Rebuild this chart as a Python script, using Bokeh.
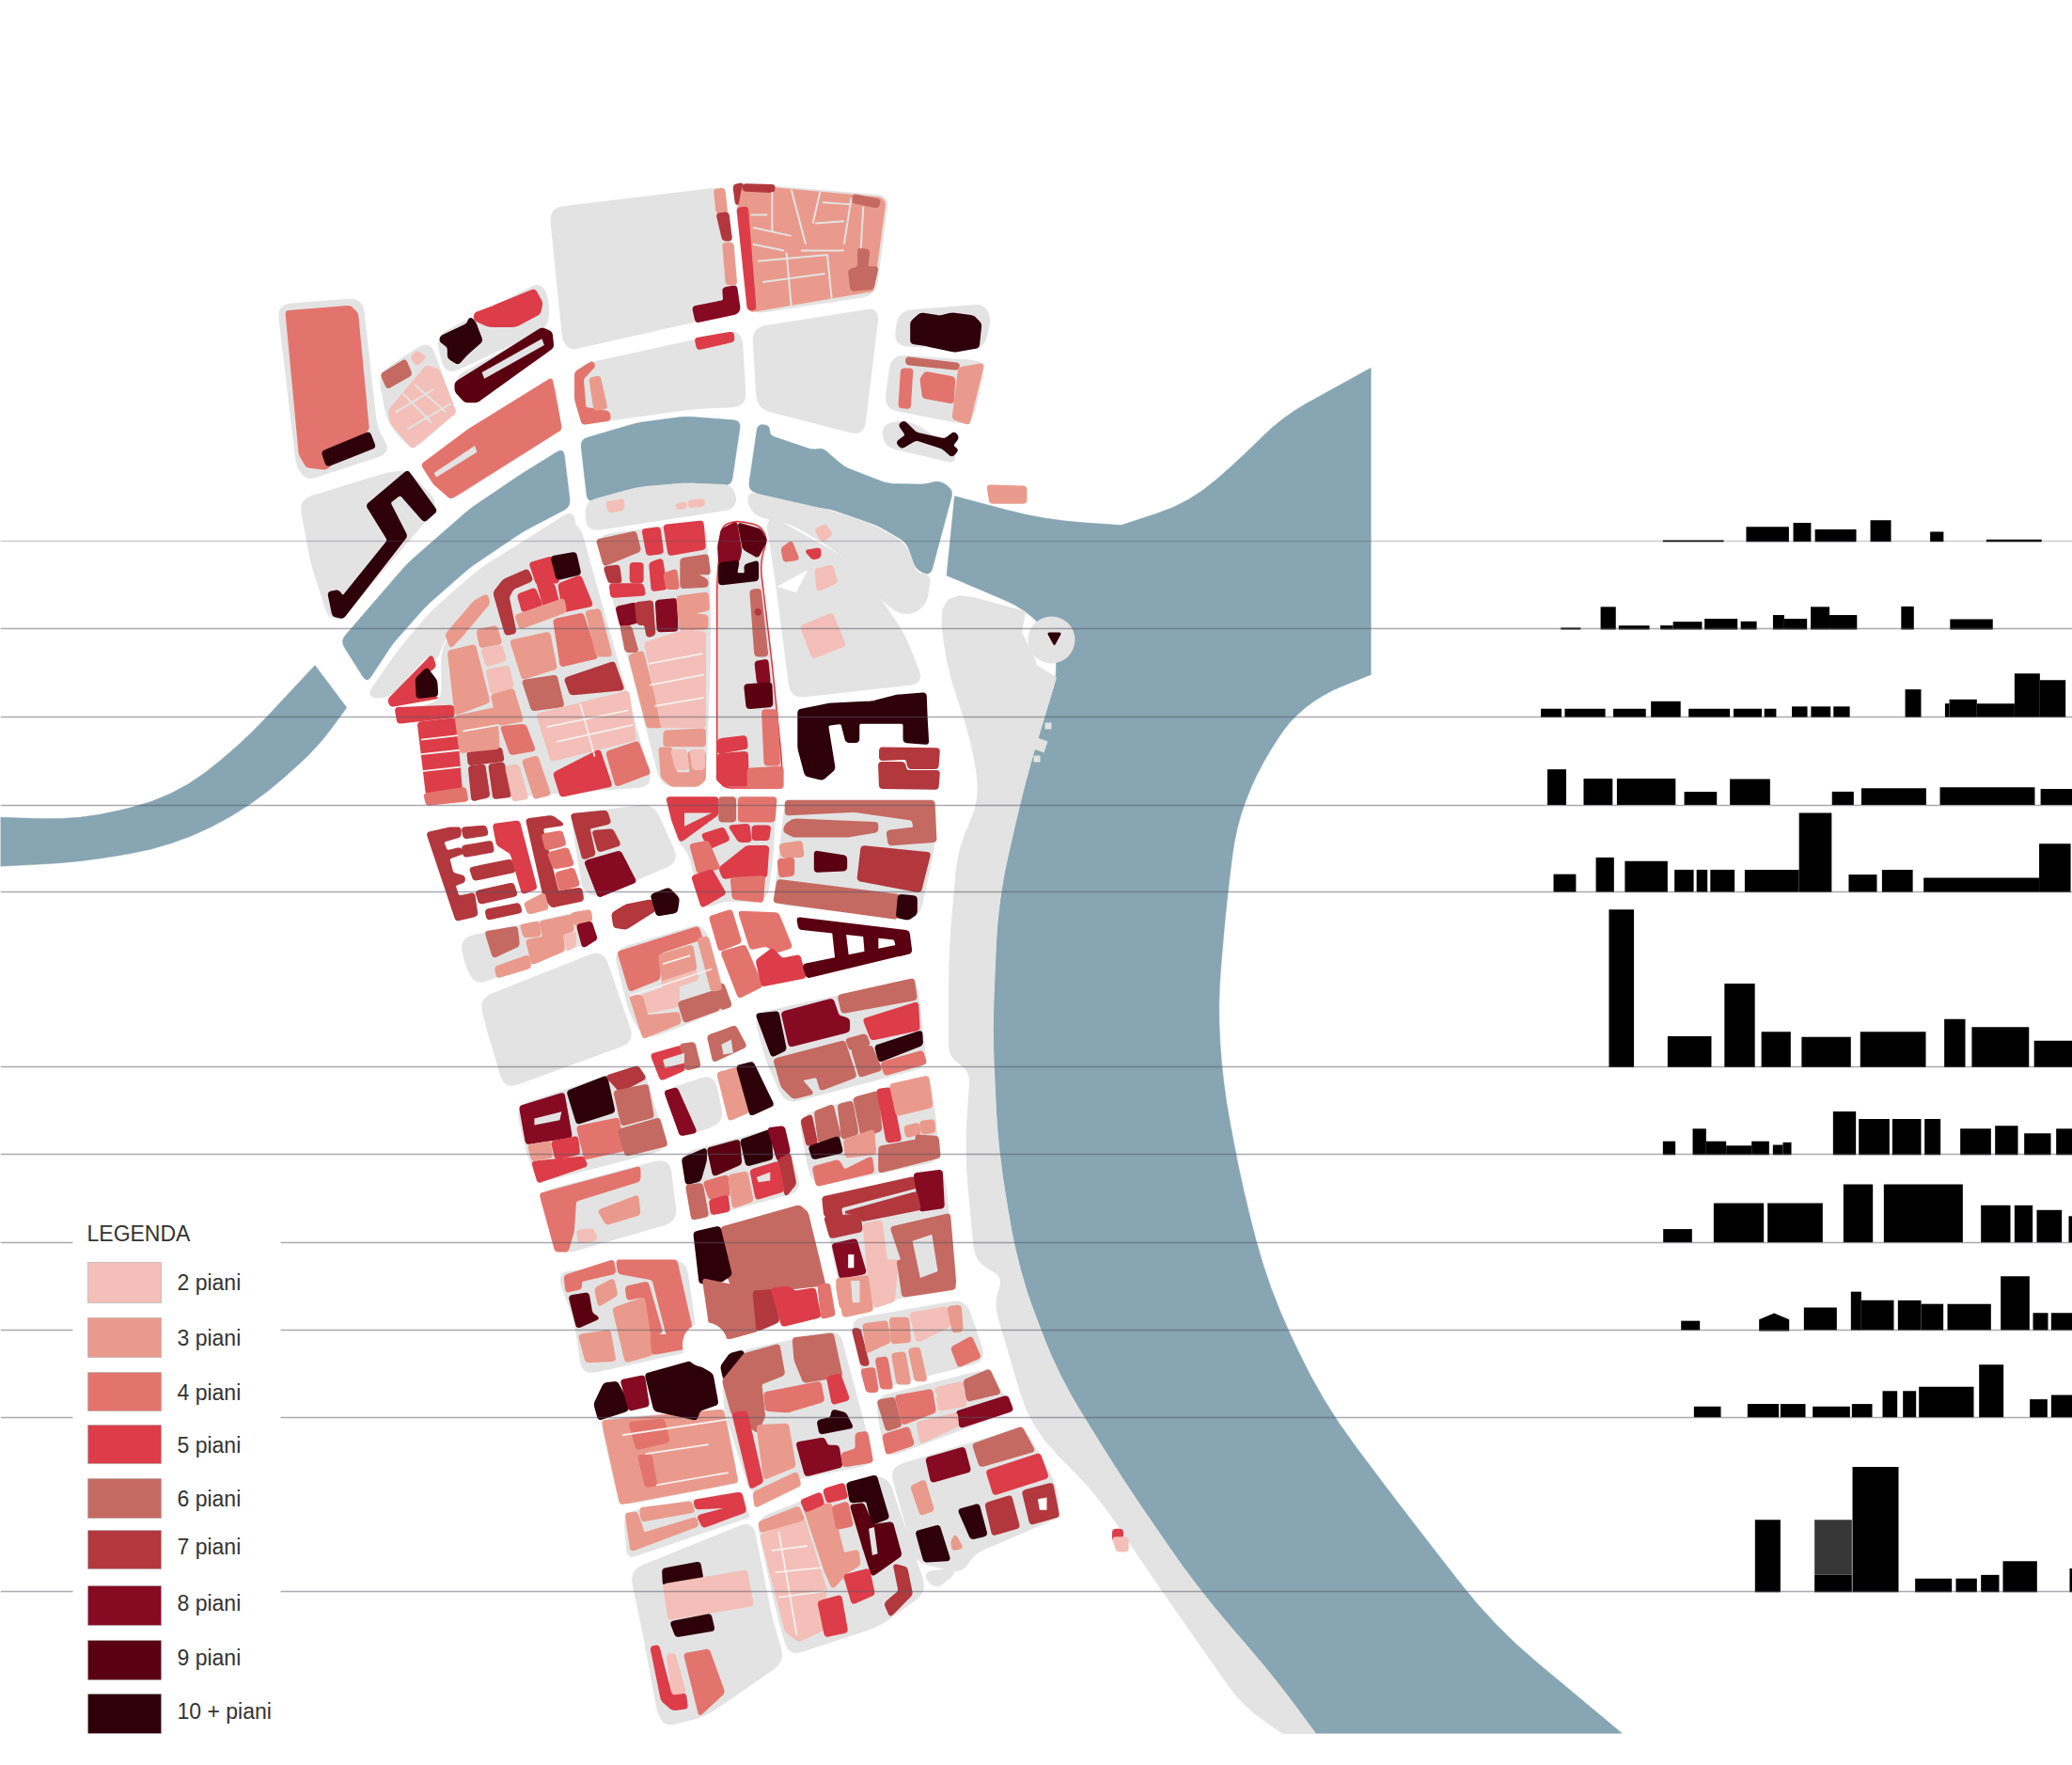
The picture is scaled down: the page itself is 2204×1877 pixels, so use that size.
from math import hypot
from bokeh.plotting import figure
from bokeh.models import Range1d, ColumnDataSource
from bokeh.core.properties import value
from bokeh.embed import file_html
from bokeh.resources import INLINE

# ---------- palette / legend ----------
LEVEL_COLORS = {2: "#F3BFB8", 3: "#EA9A8C", 4: "#E3746D", 5: "#DC3D49", 6: "#C56A62",
                7: "#B2383E", 8: "#860A22", 9: "#5A0010", 10: "#2E000A"}
LEGEND_LABELS = ["2 piani", "3 piani", "4 piani", "5 piani", "6 piani", "7 piani", "8 piani", "9 piani", "10 + piani"]
LEGEND_TOPS = [1342, 1401, 1459, 1515, 1572, 1627, 1686, 1744, 1801]
LEGEND_BOTTOMS = [1385, 1443, 1500, 1556, 1614, 1668, 1728, 1786, 1843]
LEGEND_TEXT_Y = [1363, 1422, 1480, 1536, 1593, 1644, 1704, 1762, 1819]
WATER_COLOR = "#87A5B2"
GREY = "#E3E3E3"
REF_LINES = [575, 668, 762, 856, 948, 1134, 1227, 1321, 1414, 1507, 1692]

# map frames in which the outlines were measured: origin x, origin y, scale x, scale y
FRAMES = {"px": (0, 0, 1, 1), "ov": (0, 0, 0.7114, 0.7114), "z1": (280, 170, 1.96, 2.24),
          "z2": (400, 830, 2.412, 2.8), "z3": (560, 1340, 2.613, 3.015),
          "s4": (1600, 530, 2.596, 2.529), "s5": (1700, 1130, 3.0, 2.613)}

# ---------- water ----------
RIVER = [("ov", [1037,278,1037,510,1000,525,975,545,950,585,935,625,928,680,921,760,925,820,940,900,960,975,1000,1060,1060,1140,1130,1230,1227,1311,995,1311,965,1270,905,1200,850,1120,800,1040,770,960,755,870,750,780,755,680,775,590,800,510,797,483,775,460,716,435,722,375,790,393,848,397,900,380,940,345,970,315]),
         ("ov", [0,618,60,620,130,603,180,565,238,503,262,535,240,565,190,610,130,640,60,652,0,655])]
RIVER_SHARP = {(1037,278),(1037,510),(1227,1311),(995,1311),(0,618),(0,655),(716,435),(722,375),(848,397),(238,503),(262,535)}
CANAL = [
 ("z1", [160,1145,300,960,430,830,540,745,625,685,640,825,540,885,430,970,340,1060,270,1150,215,1245]),
 ("z1", [660,665,780,625,880,610,995,620,975,775,880,768,780,780,675,815]),
 ("z1", [1030,628,1055,632,1055,655,1145,690,1165,685,1210,730,1300,770,1380,772,1408,762,1438,785,1390,990,1360,975,1340,910,1280,870,1180,830,1100,825,1010,785]),
]
ISLETS = [("px",[1111,768,1118,768,1118,775,1111,775]),("px",[1103,784,1114,788,1110,800,1099,796]),("px",[1099,803,1106,803,1106,810,1099,810])]

# ---------- grey ground ----------
BANK = [("px", [998,625,1090,650,1086,672,1100,700,1102,707,1123,720,1090,830,1061,956,1055,1096,1061,1223,1082,1349,1125,1462,1195,1575,1272,1687,1356,1785,1399,1843,1364,1843,1321,1813,1223,1673,1167,1589,1096,1518,1057,1385,1068,1357,1037,1342,1026,1223,1032,1138,1009,1124,1009,1012,1019,900,1043,850,1033,787,1005,703])]
BANK_SHARP = {(1399,1843),(1364,1843),(1090,650),(1086,672),(1102,707),(1123,720)}
GROUND = [
 ("z1", [597,115,960,65,990,360,640,450,625,430]),
 ("z1", [980,55,1290,85,1300,100,1275,320,1015,365]),
 ("z1", [655,490,995,405,1005,585,900,590,660,628]),
 ("z1", [1020,400,1270,355,1280,370,1250,655,1030,590]),
 ("z1", [1325,360,1500,345,1515,375,1500,450,1315,440]),
 ("z1", [1310,465,1505,480,1475,630,1295,590]),
 ("z1", [1290,630,1345,620,1440,690,1440,720,1295,680]),
 ("z1", [30,345,205,330,235,640,265,695,90,760,70,730]),
 ("z1", [75,810,260,745,300,740,365,820,160,1095,135,1085,100,960]),
 ("z1", [240,510,345,430,400,600,310,690,260,625]),
 ("z1", [360,420,580,290,595,345,590,400,380,510]),
 ("z1", [395,520,595,395,605,450,420,580]),
 ("z1", [330,725,605,520,620,640,390,810]),
 ("z1", [215,1278,280,1170,350,1075,450,975,645,835,650,880,470,1020,380,1130,360,1190,340,1180,260,1280]),
 ("z1", [372,1160,460,1030,640,860,660,880,810,1490,340,1530,325,1300,372,1290]),
 ("z1", [695,895,920,860,930,1040,930,1190,920,1490,830,1490]),
 ("z1", [670,815,780,780,880,770,975,775,985,810,975,830,690,880,675,870]),
 ("z1", [1005,790,1180,835,1270,870,1340,915,1360,985,1390,990,1380,1060,1340,1085,1300,1060,1250,990,1190,925,1100,865,1020,845]),
 ("z1", [1070,1015,1100,1280,1375,1245,1335,1130,1270,1020,1200,940,1120,890,1060,850,1050,870,1055,900]),
 ("z2", [745,50,1025,50,1015,230,1000,360,890,355,840,380,800,210,775,180]),
 ("z2", [1050,60,1430,60,1430,200,1390,410,1020,365]),
 ("z2", [500,100,710,70,775,240,560,345,530,320]),
 ("z2", [215,470,545,385,565,470,255,605,230,550]),
 ("z2", [610,505,825,430,845,450,890,620,910,670,690,770,650,690]),
 ("z2", [265,650,580,505,660,775,330,915,290,760]),
 ("z2", [970,695,1385,590,1410,850,1050,960,1000,830]),
 ("z2", [735,925,865,875,890,1015,785,1060]),
 ("z2", [360,970,680,845,745,1095,415,1195,385,1100]),
 ("z2", [420,1225,750,1125,770,1310,470,1410]),
 ("z2", [785,1110,1040,1030,1090,1220,815,1305]),
 ("z2", [1085,1000,1420,880,1445,1130,1130,1205,1110,1160]),
 ("z2", [1145,1250,1455,1165,1490,1510,1200,1568]),
 ("z3", [85,40,440,0,470,240,450,290,155,365,135,200]),
 ("z3", [905,190,1200,130,1225,150,1275,320,940,420,915,250]),
 ("z3", [970,440,1280,350,1350,480,1000,630,985,550]),
 ("z3", [1010,665,1380,535,1470,720,1480,820,1240,940,1210,1000,1080,965,1050,830]),
 ("z3", [640,830,890,715,1000,690,1110,1060,980,1170,730,1265,710,1190,680,1050]),
 ("z3", [288,995,610,845,630,860,680,1150,715,1285,620,1360,495,1460,385,1490,365,1450,325,1200]),
 ("z3", [270,810,600,740,610,805,620,820,290,950,280,940]),
 ("z3", [205,510,550,480,585,710,260,785]),
 ("z3", [545,340,600,290,845,230,870,240,965,650,770,695,655,735,622,740,550,480]),
 ("z3", [1100,1000,1185,990,1185,1005,1135,1055]),
]
OUTLINED_BLOCK = ("z1", [955,870,985,858,1035,870,1050,900,1035,960,1060,1200,1080,1430,1082,1495,960,1495,945,1470,945,1000])

# ---------- buildings: (floors, outline) ----------
BUILDINGS_Z1 = [
 (4,[47,360,180,348,195,365,218,640,130,735,90,730,75,700]),
 (10,[122,695,220,648,232,683,132,728]),
 (5,[440,365,475,350,565,308,580,340,575,365,525,395,470,395,440,380]),
 (10,[370,420,425,390,430,375,440,385,455,430,425,460,405,485,385,470,385,445,368,430]),
 (9,[400,530,580,400,600,410,603,445,445,575,420,575,400,550]),
 (6,[245,510,295,475,308,510,258,543]),
 (2,[320,455,337,470,320,487,307,470]),
 (2,[262,595,340,490,365,500,400,600,310,685,265,625]),
 (4,[330,725,430,640,600,520,620,640,390,805,355,770]),
 (4,[650,505,685,480,690,490,665,520,670,590,720,600,722,618,665,628,650,570]),
 (3,[680,520,700,515,715,590,690,595]),
 (5,[900,425,978,410,980,430,905,450]),
 (8,[895,350,960,335,958,305,985,300,992,355,985,365,902,385]),
 (3,[940,70,960,68,965,125,945,125]),
 (7,[945,128,968,125,975,190,958,190]),
 (3,[958,198,978,198,985,295,965,295]),
 (7,[980,60,998,55,1000,100,985,105]),
 (3,[1000,60,1285,90,1295,100,1270,310,1015,360,990,118]),
 (5,[988,115,1008,112,1025,355,1010,355]),
 (7,[1000,58,1065,60,1063,75,1000,72]),
 (6,[1230,82,1285,95,1280,112,1228,100]),
 (6,[1240,210,1262,215,1258,255,1280,255,1270,305,1225,310,1220,262,1240,255]),
 (10,[1350,385,1370,365,1410,372,1435,365,1480,372,1495,390,1490,445,1440,455,1380,440,1350,435]),
 (6,[1340,470,1450,485,1447,498,1340,485]),
 (4,[1330,498,1352,497,1347,590,1325,588]),
 (4,[1370,520,1380,505,1440,518,1437,578,1375,565]),
 (3,[1450,495,1500,485,1470,628,1437,615]),
 (10,[1325,630,1335,622,1360,650,1420,665,1440,648,1448,660,1435,680,1447,690,1435,705,1415,685,1360,665,1330,685,1320,672,1340,655]),
 (10,[135,1030,155,1025,165,1040,260,905,215,822,300,740,360,835,335,860,285,795,262,815,298,895,165,1090,145,1085]),
 (2,[715,815,750,808,750,832,720,838]),(2,[860,820,880,815,880,828,862,830]),(2,[885,812,918,808,918,822,887,826]),
 (5,[260,1285,350,1180,358,1205,320,1240,318,1280,365,1280,265,1300]),
 (10,[318,1235,340,1210,360,1240,362,1275,320,1280]),
 (5,[275,1305,395,1300,396,1325,280,1340]),
 (5,[322,1340,400,1330,412,1500,340,1510]),
 (4,[335,1510,420,1495,425,1525,340,1535]),
 (7,[425,1410,495,1400,500,1430,428,1440]),(7,[428,1445,460,1440,470,1515,435,1525]),(7,[470,1440,500,1435,515,1515,480,1520]),
 (2,[505,1445,530,1440,550,1520,520,1525]),(3,[540,1430,570,1420,597,1510,565,1520]),
 (3,[380,1130,440,1050,465,1035,470,1055,415,1130,390,1160]),
 (3,[445,1120,485,1110,495,1150,452,1160]),
 (3,[385,1170,440,1155,470,1290,400,1320]),
 (2,[455,1165,495,1155,505,1190,465,1205]),(2,[465,1215,510,1205,520,1255,475,1270]),
 (3,[475,1275,520,1260,540,1335,490,1345]),(4,[495,1350,545,1345,565,1405,515,1415]),
 (3,[400,1325,485,1305,490,1400,410,1410]),
 (7,[480,1030,500,1000,550,975,560,1000,520,1020,510,1040,525,1125,505,1130]),
 (5,[555,960,600,945,615,1005,570,1010]),(10,[600,945,650,935,660,985,612,998]),
 (5,[615,1010,660,990,685,1060,625,1075]),(5,[530,1035,565,1020,580,1060,540,1075]),(5,[570,1005,605,1010,615,1055,585,1065]),
 (3,[525,1085,625,1045,630,1075,535,1115]),
 (3,[515,1145,595,1125,610,1210,540,1235]),(4,[605,1095,665,1080,695,1185,620,1205]),(3,[672,1075,700,1070,725,1180,695,1180]),
 (6,[540,1240,610,1228,625,1300,560,1310]),(7,[628,1235,730,1195,750,1260,640,1272]),
 (2,[570,1320,760,1265,775,1380,600,1430]),
 (4,[715,1410,780,1385,805,1460,735,1490]),(5,[605,1460,700,1405,725,1490,620,1515]),
 (6,[695,905,775,885,785,930,710,965]),(5,[790,880,825,875,832,935,800,940]),(5,[835,870,915,860,920,925,845,940]),
 (7,[710,970,740,965,745,1005,720,1005]),(5,[722,1010,790,1010,795,1035,725,1040]),(5,[765,960,790,960,790,1005,765,1005]),
 (5,[805,960,830,950,840,1020,810,1025]),(4,[835,985,860,975,865,1020,840,1020]),
 (6,[870,950,925,940,930,985,900,985,925,1000,925,1015,870,1018]),
 (8,[735,1065,775,1055,780,1100,745,1110]),(7,[775,1055,810,1050,815,1130,800,1135,795,1105,780,1105]),
 (8,[818,1050,860,1045,862,1120,822,1122]),(3,[862,1040,925,1030,928,1070,890,1080,925,1085,925,1115,868,1118]),
 (6,[745,1110,765,1110,780,1170,755,1170]),(3,[762,1180,790,1170,830,1350,800,1350]),
 (2,[795,1150,880,1120,920,1125,920,1350,830,1350]),(3,[835,1360,920,1355,920,1395,835,1395]),
 (3,[825,1400,850,1400,860,1460,890,1460,885,1410,920,1410,920,1475,905,1490,850,1490,830,1470]),
 (2,[850,1405,880,1405,885,1450,860,1450]),(2,[890,1405,918,1405,918,1450,895,1450]),
 (8,[955,880,985,862,995,930,990,955,950,960,948,920]),(9,[990,865,1035,880,1048,905,1030,945,1000,925]),
 (10,[950,960,990,955,985,985,1005,985,1003,965,1030,955,1030,1000,950,1010]),
 (6,[1015,1025,1035,1022,1050,1180,1025,1180]),(7,[1025,1070,1035,1070,1036,1082,1026,1082]),
 (8,[1025,1195,1050,1190,1055,1245,1030,1245]),(9,[1003,1250,1058,1245,1060,1300,1008,1305]),
 (4,[1040,1310,1070,1310,1075,1440,1045,1440]),(5,[948,1380,1005,1372,1008,1400,948,1412]),
 (5,[948,1415,1008,1410,1010,1490,960,1490,945,1475]),(4,[1010,1450,1082,1445,1082,1495,1010,1495]),
 (4,[1080,925,1100,908,1115,950,1085,955]),(5,[1130,930,1160,925,1160,945,1145,950]),
 (2,[1150,880,1170,868,1185,890,1165,908]),(2,[1150,975,1185,965,1195,1005,1155,1025]),(2,[1120,1110,1185,1080,1212,1155,1145,1185]),
 (10,[1115,1310,1180,1295,1270,1290,1320,1275,1380,1270,1382,1330,1385,1390,1335,1385,1335,1340,1240,1340,1240,1385,1215,1385,1205,1340,1175,1345,1190,1450,1165,1475,1130,1465,1115,1400]),
 (7,[1285,1400,1408,1402,1405,1448,1345,1448,1340,1425,1285,1428]),
 (7,[1283,1435,1335,1435,1340,1455,1408,1455,1405,1497,1285,1495]),
]
BUILDINGS_OV = [(3,[747,367,776,368,776,380,749,380]),(5,[842,1157,849,1157,849,1165,842,1165]),(2,[842,1163,853,1163,853,1173,845,1173])]
BUILDINGS_Z2 = [
 (5,[745,50,875,50,875,100,780,180,760,120]),
 (6,[880,50,920,50,920,120,880,120]),(4,[930,50,1025,50,1020,120,930,120]),
 (5,[835,160,890,140,905,175,855,200]),(5,[905,135,955,130,960,180,930,180]),(5,[965,135,1010,135,1005,175,965,175]),
 (4,[805,190,850,180,880,260,825,275]),(5,[880,260,950,195,1005,195,1000,285,915,285,890,290]),
 (5,[810,285,860,265,895,335,835,375]),(4,[910,290,995,285,990,360,915,350]),
 (6,[1050,60,1430,60,1435,180,1315,190,1310,150,1380,140,1375,115,1225,90,1050,100]),
 (6,[1050,130,1070,115,1285,125,1285,150,1210,165,1070,165,1045,150]),
 (3,[1035,190,1090,180,1095,225,1040,225]),(4,[1030,235,1070,230,1070,280,1035,285]),
 (9,[1125,210,1205,225,1205,265,1125,270]),(7,[1245,195,1420,215,1395,330,1235,295]),
 (6,[1030,295,1340,340,1335,410,1020,360]),(10,[1340,340,1385,345,1385,395,1365,412,1335,405]),
 (7,[130,155,190,140,215,140,215,165,170,180,180,210,215,200,222,215,185,230,195,275,225,285,225,300,200,310,210,345,250,335,258,400,205,415]),
 (7,[220,140,280,135,285,160,225,170]),(7,[220,195,295,180,300,210,225,225]),(7,[240,260,345,235,355,270,250,295]),
 (7,[255,330,350,305,360,340,265,365]),(7,[280,385,365,365,372,390,285,412]),
 (5,[300,130,365,120,410,320,375,335,345,215,310,190]),
 (7,[385,115,450,105,480,130,425,140,465,330,525,320,530,355,450,375,430,345]),
 (4,[425,160,475,150,485,190,435,205]),(4,[440,215,490,200,505,250,455,260]),(4,[460,275,505,260,520,310,470,325]),
 (3,[380,365,430,335,440,380,390,395]),(7,[500,100,590,90,600,125,545,140,560,220,530,232]),
 (7,[555,150,605,145,625,190,570,210]),(8,[535,240,625,210,665,300,570,345]),
 (7,[605,395,640,370,705,355,715,385,640,440,610,435]),(10,[705,340,750,320,775,350,770,390,720,400]),
 (6,[280,450,360,435,365,490,300,525]),(3,[370,430,415,420,420,460,380,465]),(3,[420,420,500,400,505,445,430,475]),
 (3,[385,475,480,455,480,505,400,545]),(2,[480,460,510,450,510,490,490,505]),(3,[500,395,548,385,552,415,510,430]),
 (8,[515,430,550,420,565,470,530,495]),(3,[305,555,390,520,395,555,310,585]),
 (4,[620,510,825,435,835,470,730,510,725,590,650,625]),(3,[725,520,810,490,820,560,735,600]),
 (2,[680,640,775,600,775,670,695,690]),(2,[730,600,820,565,825,590,740,625]),
 (3,[650,640,680,640,695,700,775,690,780,720,685,765]),(6,[775,660,870,625,880,680,790,718]),(6,[865,610,890,605,910,670,885,680]),
 (3,[825,470,850,465,885,620,860,625]),
 (4,[855,405,910,385,935,480,880,505]),(4,[930,390,1030,395,1065,495,1025,510,1000,490,960,500]),
 (4,[885,510,945,490,990,610,930,645]),(5,[975,535,1015,500,1040,530,1085,520,1100,585,990,610]),
 (9,[1080,408,1365,448,1372,510,1340,520,1330,470,1085,440]),(9,[1095,548,1340,490,1372,510,1105,585]),
 (9,[1170,432,1200,435,1210,530,1180,540]),(9,[1250,445,1285,450,1285,510,1255,515]),
 (10,[975,695,1030,688,1050,800,1015,820]),(8,[1040,690,1170,650,1185,700,1212,710,1212,745,1060,790]),
 (6,[1185,640,1378,590,1385,650,1195,690]),(5,[1250,710,1388,660,1392,740,1270,770]),(10,[1280,790,1398,745,1400,785,1290,835]),
 (6,[1020,830,1200,775,1230,880,1140,920,1130,880,1090,890,1120,930,1070,945,1040,910]),
 (6,[1205,770,1255,755,1265,785,1215,800]),(6,[1220,800,1270,790,1295,860,1240,880]),(4,[1295,840,1400,805,1410,840,1305,875]),
 (6,[850,760,920,730,948,790,865,835]),(5,[705,815,780,790,790,860,730,890]),(6,[780,785,815,780,830,850,795,860]),
 (8,[740,925,770,915,820,1045,780,1055]),(3,[875,870,925,855,955,985,905,1010]),(10,[925,850,965,838,1018,965,960,995]),
 (8,[368,970,480,930,500,1060,385,1080]),(10,[490,925,590,880,610,985,515,1020]),(7,[590,880,670,850,690,885,625,925]),
 (6,[610,925,695,905,710,1000,630,1025]),(4,[515,1030,620,1005,635,1100,535,1125]),(6,[620,1040,725,1005,745,1085,640,1115]),
 (5,[400,1135,530,1120,540,1145,415,1195]),(3,[390,1085,445,1075,450,1120,400,1130]),(5,[450,1075,515,1060,520,1110,460,1125]),
 (4,[420,1230,675,1150,675,1190,510,1250,505,1340,490,1400,460,1400]),(3,[570,1280,670,1235,675,1290,590,1320]),(2,[515,1340,555,1335,565,1365,520,1375]),
 (10,[785,1125,845,1095,845,1130,830,1190,795,1200]),(9,[850,1095,930,1070,935,1140,865,1175]),(10,[935,1070,1010,1040,1015,1125,950,1145]),
 (8,[1005,1035,1045,1030,1060,1105,1030,1130]),(7,[1030,1130,1060,1110,1075,1200,1050,1235]),
 (6,[795,1205,835,1200,850,1295,810,1305]),(4,[840,1195,900,1175,905,1235,855,1245]),(5,[855,1250,900,1235,905,1280,860,1290]),
 (3,[905,1175,950,1165,965,1250,915,1270]),(5,[960,1160,1030,1135,1045,1220,975,1245]),
 (7,[1090,1010,1115,995,1130,1080,1105,1085]),(6,[1125,985,1170,965,1190,1060,1135,1075]),(10,[1110,1090,1185,1060,1195,1105,1120,1125]),
 (6,[1185,965,1220,955,1235,1050,1195,1065]),(6,[1225,945,1285,925,1295,1040,1245,1060]),(5,[1285,920,1318,915,1345,1070,1310,1075]),
 (3,[1318,905,1415,880,1425,970,1335,995]),(3,[1355,1030,1390,1020,1395,1050,1360,1060]),(3,[1395,1015,1430,1010,1432,1045,1400,1050]),
 (6,[1290,1090,1385,1070,1385,1055,1440,1060,1445,1120,1290,1165]),(3,[1200,1070,1275,1040,1280,1110,1205,1120]),
 (4,[1120,1150,1185,1130,1200,1160,1270,1120,1275,1165,1130,1205]),
 (7,[1145,1240,1380,1180,1385,1210,1190,1270,1195,1300,1150,1295]),(8,[1380,1170,1450,1160,1455,1270,1395,1280]),
 (7,[1200,1285,1385,1225,1395,1275,1245,1310,1245,1290]),
 (6,[885,1330,1085,1265,1105,1285,1150,1500,920,1530,900,1470]),(10,[815,1345,880,1328,910,1470,885,1490,830,1495]),
 (6,[1320,1330,1470,1290,1485,1500,1375,1520]),(8,[1170,1380,1230,1365,1255,1465,1190,1480]),
 (7,[1150,1300,1240,1290,1245,1340,1165,1360]),(2,[1250,1320,1295,1310,1315,1490,1265,1500]),
 (3,[1180,1500,1250,1480,1260,1568,1190,1568]),
]
BUILDINGS_Z3 = [
 (4,[105,50,240,0,245,40,150,65,150,90,110,100]),
 (4,[250,0,415,0,460,230,390,240,350,60,255,40]),
 (9,[118,115,170,105,180,170,200,185,140,215]),
 (3,[190,90,240,60,250,110,200,145]),(4,[275,85,335,70,375,230,345,240,320,115,280,125]),
 (3,[240,155,325,120,350,300,275,325]),(4,[345,240,455,240,445,280,350,300]),(3,[145,240,230,225,245,320,165,325]),
 (6,[490,60,630,95,640,225,560,250,510,220]),(7,[630,100,680,95,700,195,640,225]),
 (5,[680,90,725,85,745,100,800,90,815,180,710,210]),(4,[810,80,840,75,855,175,820,185]),
 (3,[860,60,950,50,960,160,880,180]),(2,[945,0,1030,0,1020,130,965,150]),
 (6,[1030,0,1080,0,1090,50,1140,40,1135,0,1180,0,1190,90,1045,115]),
 (7,[905,220,925,220,950,335,930,335]),(3,[935,205,1000,195,1010,260,945,295]),(3,[1010,185,1060,185,1065,260,1015,265]),
 (2,[1065,170,1165,150,1175,210,1085,260]),(3,[1170,150,1205,145,1210,225,1185,230]),(4,[1180,280,1235,245,1260,310,1200,340]),
 (4,[930,350,965,345,975,420,945,420]),(4,[970,315,1000,310,1015,410,985,410]),(3,[1015,300,1050,295,1065,395,1030,395]),(3,[1062,285,1090,280,1110,385,1080,385]),
 (6,[975,450,1020,440,1040,530,1000,545]),(4,[1025,435,1125,415,1135,485,1045,525]),(2,[1135,410,1210,390,1215,410,1140,430]),
 (2,[1140,435,1215,415,1220,465,1145,480]),(6,[1215,385,1285,350,1315,425,1225,450]),(8,[1195,485,1335,435,1350,480,1205,535]),
 (2,[1085,520,1195,490,1198,530,1095,585]),(4,[990,560,1060,535,1075,590,1000,620]),
 (6,[1240,590,1375,535,1410,610,1260,660]),(8,[1110,635,1215,600,1232,675,1125,710]),(5,[1278,675,1425,620,1448,695,1298,750]),
 (7,[1378,740,1460,715,1478,820,1400,845]),(7,[1275,780,1345,755,1368,855,1295,880]),(10,[1200,800,1255,782,1278,880,1235,892]),
 (10,[1082,870,1145,850,1175,960,1105,965]),(3,[1180,905,1190,880,1210,920,1185,928]),(3,[1068,725,1105,705,1130,800,1095,815]),
 (10,[890,715,970,690,1005,825,960,845,945,770,900,775]),(9,[900,785,935,780,960,850,1015,840,1040,945,960,1010,935,920]),
 (7,[1020,975,1055,985,1070,1070,1010,1140,995,1100,1035,1060]),
 (2,[650,880,770,830,830,1050,830,1180,755,1220,720,1190]),(3,[770,790,845,780,880,940,920,930,925,975,890,1000,850,1050,830,1000]),
 (3,[645,840,755,790,770,830,650,870]),(5,[762,770,815,745,825,780,775,805]),(5,[825,735,880,715,890,760,835,775]),
 (4,[850,790,890,775,905,850,862,860]),(5,[882,1010,950,990,965,1070,905,1100]),(5,[810,1095,872,1075,890,1190,830,1205]),
 (10,[378,990,480,968,488,1020,380,1040]),(2,[380,1040,610,995,628,1105,395,1150]),(10,[400,1160,510,1135,520,1185,415,1205]),
 (5,[345,1240,365,1235,400,1390,440,1390,445,1435,405,1440,375,1410]),(2,[390,1265,410,1262,440,1385,405,1390]),(4,[438,1262,505,1248,548,1385,480,1458]),
 (3,[315,795,455,775,465,805,320,835]),(3,[275,812,305,808,325,875,470,825,475,850,290,930]),
 (5,[465,770,595,745,608,805,490,855,475,820,570,790,470,795]),(3,[630,745,750,680,760,720,635,790]),
 (3,[210,515,545,480,585,710,260,780]),(4,[285,520,380,510,395,580,305,605]),(4,[310,625,345,625,360,720,330,725]),
 (10,[188,460,215,395,250,390,280,455,280,480,200,510]),(8,[262,385,325,370,338,465,285,480]),
 (10,[330,365,455,325,515,365,530,460,480,480,470,510,355,480]),(10,[540,340,565,300,600,290,610,365,548,380]),
 (6,[545,385,605,300,700,270,715,365,650,395,660,500,640,550,570,490]),(6,[740,250,850,235,875,370,770,390,745,320]),
 (4,[660,425,815,390,825,450,725,485,665,480]),(5,[835,375,870,365,895,445,850,460]),
 (5,[572,490,610,485,655,710,622,730]),(3,[640,530,725,525,745,660,660,700]),
 (10,[808,515,845,505,850,480,885,490,905,535,815,555]),(8,[750,585,825,570,835,595,865,595,875,660,775,690]),
 (4,[915,555,945,550,960,645,880,660,875,620,915,605]),
]

# ---------- courtyards and small openings ----------
GREY_HOLES = [
 ("z1",[455,505,580,425,585,440,460,520]),("z1",[355,745,440,680,445,695,360,755]),
 ("z2",[790,95,860,95,790,135]),("z2",[405,1005,475,985,470,1010,405,1025]),("z2",[885,785,910,770,915,810,890,815]),
 ("z2",[735,830,790,810,790,840,740,855]),("z2",[975,1180,1010,1165,1010,1190,980,1195]),("z2",[1375,1370,1425,1350,1440,1460,1395,1480]),
 ("z3",[900,65,925,65,925,135,905,135]),("z3",[950,860,965,855,975,940,960,945]),
]
WHITE_HOLES = [("z1",[1070,1015,1135,975,1110,1030]),("z2",[1210,1410,1225,1410,1225,1450,1210,1450]),("z3",[1420,765,1445,760,1445,800,1425,800])]
GREY_LINES = [
 ("z1",[1100,70,1130,200]),("z1",[1160,75,1145,150]),("z1",[1225,90,1210,200]),("z1",[1165,100,1225,105]),("z1",[1150,150,1210,145]),
 ("z1",[1020,160,1100,180]),("z1",[1030,240,1175,225]),("z1",[1040,290,1170,270]),("z1",[1060,75,1060,170]),("z1",[1090,220,1100,350]),
 ("z1",[1175,225,1185,340]),("z1",[1250,110,1245,210]),("z1",[1020,200,1085,215]),("z1",[1015,130,1050,130]),("z1",[1120,215,1210,215]),
 ("z1",[290,555,350,625]),("z1",[315,535,380,600]),("z1",[275,600,355,545]),("z1",[300,640,390,580]),
]
WHITE_LINES = [
 ("z1",[328,1380,405,1370]),("z1",[328,1415,408,1405]),("z1",[330,1455,410,1445]),("z1",[415,1360,490,1345]),
 ("z1",[800,1200,915,1175]),("z1",[805,1250,918,1225]),("z1",[815,1300,918,1280]),("z1",[590,1350,760,1310]),("z1",[610,1385,770,1345]),("z1",[660,1295,690,1420]),
 ("z3",[330,620,505,590]),("z3",[265,560,555,510]),("z3",[360,720,560,680]),("z3",[680,930,780,915]),("z3",[690,1000,820,985]),("z3",[700,1080,830,1060]),
 ("z3",[700,870,750,1200]),
 ("z2",[650,640,860,560]),("z2",[735,545,805,520]),
]
ROUNDABOUT = ("z3", 495, 270)
PIER = ("px", 1118, 680)
PIER_MARK = ("px", [1113,672,1129,672,1121,687])

# ---------- elevation strips: (left, right, top) over a baseline ----------
STRIP_1 = ("s4",118,[(437,605,114),(667,785,78),(797,846,67),(857,971,85),(1010,1067,60),(1175,1212,91),(1330,1483,112)])
STRIP_2 = ("s4",354,[(155,210,349),(265,307,293),(315,400,343),(430,465,343),(465,545,333),(552,643,325),(652,696,332),(741,772,315),(772,835,325),(845,897,293),(897,973,315),(1095,1130,292),(1230,1348,326)])
STRIP_3 = ("s4",590,[(100,157,567),(166,278,567),(300,390,567),(404,486,547),(508,622,567),(632,710,567),(717,750,567),(793,836,561),(846,900,561),(908,953,561),(1106,1150,515),(1216,1228,553),(1228,1304,542),(1304,1408,553),(1408,1478,472),(1478,1549,490)])
STRIP_4 = ("s4",826,[(118,170,730),(218,298,755),(310,472,755),(496,586,790),(622,733,756),(904,964,790),(985,1164,781),(1202,1464,778),(1480,1568,783)])
STRIP_5 = ("s4",1060,[(135,197,1012),(252,302,967),(332,450,977),(469,522,1000),(530,560,1000),(568,635,1000),(663,813,1000),(813,903,847),(950,1028,1013),(1042,1127,1000),(1157,1476,1022),(1476,1563,930)])
STRIP_6 = ("s4",1531,[(288,357,1107),(450,571,1448),(607,691,1306),(709,790,1436),(820,956,1450),(982,1163,1436),(1214,1272,1402),(1290,1448,1423),(1462,1568,1460)])
STRIP_7 = ("s5",258,[(205,245,220),(300,343,185),(343,407,220),(407,488,232),(488,544,220),(556,588,230),(588,615,223),(748,821,137),(830,928,158),(937,1029,158),(1040,1091,158),(1154,1252,185),(1265,1338,177),(1358,1443,198),(1460,1512,185)])
STRIP_8 = ("s5",501,[(206,298,464),(367,527,392),(539,715,392),(781,875,340),(910,1162,340),(1220,1314,398),(1327,1385,398),(1398,1478,411),(1500,1512,428)])
STRIP_9 = ("s5",745,[(263,323,719),(655,760,682),(805,838,638),(838,942,662),(955,1029,662),(1029,1100,672),(1113,1252,672),(1283,1375,595),(1386,1434,697),(1444,1512,697)])
STRIP_10 = ("s5",987,[(304,390,957),(475,575,950),(580,660,950),(683,802,957),(808,873,950),(906,953,914),(971,1013,914),(1022,1197,902),(1214,1292,841),(1376,1432,937),(1444,1512,925)])
STRIP_11 = ("s5",1473,[(499,580,1272),(689,808,1425),(810,957,1125),(1010,1127,1435),(1140,1207,1435),(1220,1278,1425),(1290,1399,1387),(1503,1512,1407)])
STRIPS = [STRIP_1,STRIP_2,STRIP_3,STRIP_4,STRIP_5,STRIP_6,STRIP_7,STRIP_8,STRIP_9,STRIP_10,STRIP_11]
STRIP_9_HOUSE = ("s5",[512,745,512,713,560,695,608,713,608,745])
STRIP_11_GREY = ("s5",(689,808,1272,1425))


def fx(frame, x):
    ox, oy, sx, sy = FRAMES[frame]
    return ox + x / sx


def fy(frame, y):
    ox, oy, sx, sy = FRAMES[frame]
    return oy + y / sy


def soften(frame, flat, r, sharp=()):
    """Round each measured corner by r pixels; corners listed in sharp stay as they are."""
    raw = list(zip(flat[0::2], flat[1::2]))
    pts = [(fx(frame, a), fy(frame, b)) for a, b in raw]
    n = len(pts)
    xs, ys = [], []
    for i in range(n):
        vx, vy = pts[i]
        if raw[i] in sharp or r <= 0:
            xs.append(vx); ys.append(vy)
            continue
        px, py = pts[i - 1]
        nx, ny = pts[(i + 1) % n]
        lp, ln = hypot(px - vx, py - vy) or 1, hypot(nx - vx, ny - vy) or 1
        d = min(r, lp / 2, ln / 2)
        ax, ay = vx + (px - vx) * d / lp, vy + (py - vy) * d / lp
        bx, by = vx + (nx - vx) * d / ln, vy + (ny - vy) * d / ln
        for t in (0, 0.25, 0.5, 0.75, 1):
            u = 1 - t
            xs.append(u * u * ax + 2 * u * t * vx + t * t * bx)
            ys.append(u * u * ay + 2 * u * t * vy + t * t * by)
    return xs, ys


def polys(items, r=0, sharp=()):
    pairs = [soften(f, c, r, sharp) for f, c in items]
    return [a for a, _ in pairs], [b for _, b in pairs]


p = figure(width=2204, height=1877, x_range=Range1d(0, 2204), y_range=Range1d(1877, 0),
           x_axis_type=None, y_axis_type=None, toolbar_location=None, output_backend="svg",
           min_border=0, outline_line_color=None, background_fill_color="white")
p.grid.visible = False

xs, ys = polys(RIVER, 60, RIVER_SHARP)
p.patches(xs, ys, fill_color=WATER_COLOR, line_color=WATER_COLOR, line_width=0.5)
xs, ys = polys(CANAL, 8)
p.patches(xs, ys, fill_color=WATER_COLOR, line_color=WATER_COLOR, line_width=0.5)
xs, ys = polys(BANK, 40, BANK_SHARP)
p.patches(xs, ys, fill_color=GREY, line_color=GREY, line_width=1)
f, a, b = PIER
p.circle([fx(f, a)], [fy(f, b)], radius=25, fill_color=GREY, line_color=None)
xs, ys = polys(ISLETS)
p.patches(xs, ys, fill_color=GREY, line_color=None)
xs, ys = polys(GROUND, 14)
p.patches(xs, ys, fill_color=GREY, line_color=GREY, line_width=2)
xs, ys = polys([OUTLINED_BLOCK], 14)
p.patches(xs, ys, fill_color=GREY, line_color="#E8303A", line_width=1.5)

rows = [(f, lvl, c) for f, group in (("z1", BUILDINGS_Z1), ("ov", BUILDINGS_OV), ("z2", BUILDINGS_Z2), ("z3", BUILDINGS_Z3)) for lvl, c in group]
xs, ys = polys([(f, c) for f, _, c in rows], 3)
src = ColumnDataSource(dict(xs=xs, ys=ys, color=[LEVEL_COLORS[l] for _, l, _ in rows]))
p.patches("xs", "ys", source=src, fill_color="color", line_color="color", line_width=2.2)

xs, ys = polys(GREY_HOLES)
p.patches(xs, ys, fill_color=GREY, line_color=None)
xs, ys = polys(WHITE_HOLES)
p.patches(xs, ys, fill_color="white", line_color=None)
xs, ys = polys(GREY_LINES)
p.multi_line(xs, ys, line_color=GREY, line_width=2)
xs, ys = polys(WHITE_LINES)
p.multi_line(xs, ys, line_color="#F7F0EE", line_width=1.8)

f, a, b = ROUNDABOUT
p.circle([fx(f, a)], [fy(f, b)], radius=24, fill_color="white", line_color=None)
xs, ys = polys([PIER_MARK], 3)
p.patches(xs, ys, fill_color=LEVEL_COLORS[10], line_color=None)

# elevation bars
L, R, T, B = [], [], [], []
for frame, base, bars in STRIPS:
    for l, r, t in bars:
        L.append(fx(frame, l)); R.append(fx(frame, r)); T.append(fy(frame, t) - 1); B.append(fy(frame, base) - 1)
p.quad(left=L, right=R, top=T, bottom=B, fill_color="black", line_color=None)
xs, ys = polys([STRIP_9_HOUSE])
p.patches(xs, ys, fill_color="black", line_color=None)
f, (l, r, t, b) = STRIP_11_GREY
p.quad(left=[fx(f, l)], right=[fx(f, r)], top=[fy(f, t) - 1], bottom=[fy(f, b) - 1], fill_color="#363636", line_color=None)

# reference lines across the whole drawing
for i, y in enumerate(REF_LINES):
    p.line([0, 2204], [y, y], line_color="#555566", line_alpha=0.3 if i == 0 else 0.5, line_width=1.5)

# legend
p.quad(left=[77], right=[298], top=[1300], bottom=[1860], fill_color="white", line_color=None)
p.quad(left=[93] * 9, right=[171] * 9, top=LEGEND_TOPS, bottom=LEGEND_BOTTOMS,
       fill_color=[LEVEL_COLORS[k] for k in range(2, 11)], line_color="#a9a9a9", line_width=0.6)
p.text([92], [1311], text=["LEGENDA"], text_font=value("Liberation Sans"), text_font_size="23px",
       text_color="#333333", text_baseline="middle", text_align="left")
p.text([188] * 9, LEGEND_TEXT_Y, text=LEGEND_LABELS, text_font=value("Liberation Sans"), text_font_size="23px",
       text_color="#333333", text_baseline="middle", text_align="left")

open("out.html", "w").write(file_html(p, INLINE))
